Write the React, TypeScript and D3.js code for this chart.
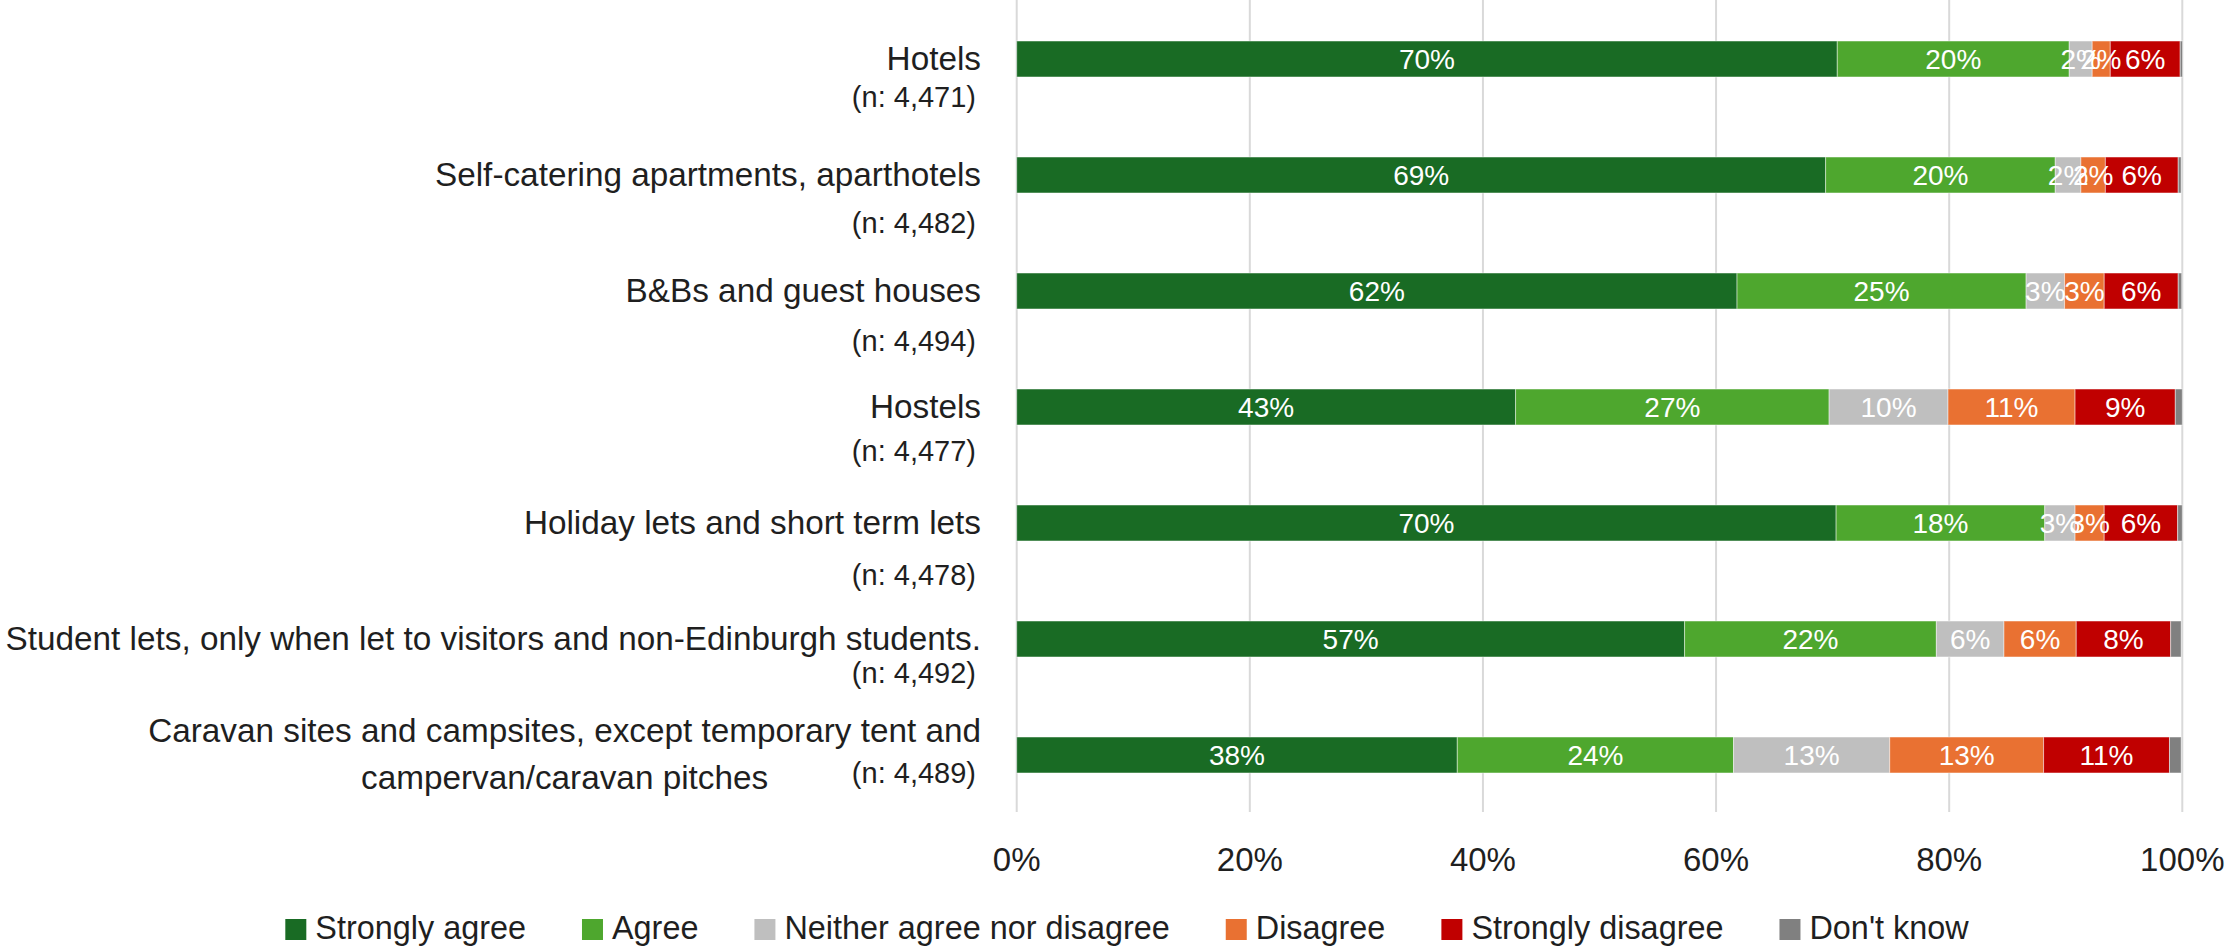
import React, { useEffect, useRef } from "react";
import * as d3 from "d3";

const categories = [
  "Hotels",
  "Self-catering apartments, aparthotels",
  "B&Bs and guest houses",
  "Hostels",
  "Holiday lets and short term lets",
  "Student lets, only when let to visitors and non-Edinburgh students.",
  "Caravan sites and campsites, except temporary tent and|campervan/caravan pitches",
];
const sampleSizes = ["4,471", "4,482", "4,494", "4,477", "4,478", "4,492", "4,489"];

const seriesNames = [
  "Strongly agree",
  "Agree",
  "Neither agree nor disagree",
  "Disagree",
  "Strongly disagree",
  "Don't know",
];
const seriesColors = ["#196B24", "#4EA72E", "#BFBFBF", "#E97132", "#C00000", "#808080"];

const stronglyAgree = [70.4, 69.4, 61.8, 42.8, 70.3, 57.3, 37.8];
const agree = [19.9, 19.7, 24.8, 26.9, 17.9, 21.6, 23.7];
const neither = [1.97, 2.2, 3.3, 10.2, 2.6, 5.8, 13.4];
const disagree = [1.55, 2.1, 3.4, 10.9, 2.5, 6.2, 13.2];
const stronglyDisagree = [6.0, 6.25, 6.35, 8.6, 6.3, 8.1, 10.8];
const dontKnow = [0.2, 0.25, 0.3, 0.6, 0.4, 0.9, 1.0];

const tickValues = [0, 20, 40, 60, 80, 100];

// layout constants (not data)
const W = 2229;
const H = 947;
const PLOT = { left: 1016.7, right: 2182.3, top: 0, bottom: 812 };
const LABEL_RIGHT = 981;
const N_RIGHT = 976;
const N_DY = [38, 48, 50, 44, 52, 34, 18];
const FONT = "'Liberation Sans', Arial, sans-serif";

export default function App() {
  const ref = useRef<SVGSVGElement>(null);

  useEffect(() => {
    const svg = d3.select(ref.current);
    svg.selectAll("*").remove();

    const series = [stronglyAgree, agree, neither, disagree, stronglyDisagree, dontKnow];
    const rows = categories.map((c, i) => {
      const r: any = { cat: c };
      seriesNames.forEach((s, j) => (r[s] = series[j][i]));
      return r;
    });
    const stacked = d3.stack().keys(seriesNames)(rows);

    const x = d3.scaleLinear().domain([0, 100]).range([PLOT.left, PLOT.right]);
    const y = d3
      .scaleBand()
      .domain(categories)
      .range([PLOT.top + 1, PLOT.bottom + 1])
      .paddingInner(0.69)
      .paddingOuter(0.345);

    // gridlines
    svg
      .append("g")
      .selectAll("line")
      .data(tickValues)
      .join("line")
      .attr("x1", (d) => x(d))
      .attr("x2", (d) => x(d))
      .attr("y1", PLOT.top)
      .attr("y2", PLOT.bottom)
      .attr("stroke", "#D9D9D9")
      .attr("stroke-width", 2);

    // bars
    const g = svg.append("g");
    stacked.forEach((layer, j) => {
      g.append("g")
        .selectAll("rect")
        .data(layer)
        .join("rect")
        .attr("x", (d) => x(d[0]))
        .attr("width", (d) => x(d[1]) - x(d[0]))
        .attr("y", (d: any) => y(d.data.cat)!)
        .attr("height", y.bandwidth())
        .attr("fill", seriesColors[j])
        .attr("stroke", "#ffffff")
        .attr("stroke-opacity", 0.45)
        .attr("stroke-width", 1);
    });
    // bar labels
    stacked.forEach((layer, j) => {
      if (seriesNames[j] === "Don't know") return;
      g.append("g")
        .selectAll("text")
        .data(layer)
        .join("text")
        .attr("x", (d) => (x(d[0]) + x(d[1])) / 2)
        .attr("y", (d: any) => y(d.data.cat)! + y.bandwidth() / 2 + 10)
        .attr("text-anchor", "middle")
        .attr("font-family", FONT)
        .attr("font-size", 28)
        .attr("fill", "#ffffff")
        .text((d) => `${Math.round(d[1] - d[0])}%`);
    });

    // category labels
    const lab = svg.append("g").attr("font-family", FONT).attr("fill", "#1F1F1F");
    categories.forEach((c, i) => {
      const cy = y(c)! + y.bandwidth() / 2;
      const lines = c.split("|");
      if (lines.length === 1) {
        lab
          .append("text")
          .attr("x", LABEL_RIGHT)
          .attr("y", cy + 11)
          .attr("text-anchor", "end")
          .attr("font-size", 33.3)
          .text(lines[0]);
      } else {
        const t1 = lab
          .append("text")
          .attr("x", LABEL_RIGHT)
          .attr("y", cy - 13)
          .attr("text-anchor", "end")
          .attr("font-size", 33.3)
          .text(lines[0]);
        const w1 = (t1.node() as SVGTextElement).getComputedTextLength();
        lab
          .append("text")
          .attr("x", LABEL_RIGHT - w1 / 2)
          .attr("y", cy + 34)
          .attr("text-anchor", "middle")
          .attr("font-size", 33.3)
          .text(lines[1]);
      }
      lab
        .append("text")
        .attr("x", N_RIGHT)
        .attr("y", cy + N_DY[i] + 10)
        .attr("text-anchor", "end")
        .attr("font-size", 29)
        .text(`(n: ${sampleSizes[i]})`);
    });

    // x tick labels
    svg
      .append("g")
      .selectAll("text")
      .data(tickValues)
      .join("text")
      .attr("x", (d) => x(d))
      .attr("y", 871)
      .attr("text-anchor", "middle")
      .attr("font-family", FONT)
      .attr("font-size", 33)
      .attr("fill", "#1F1F1F")
      .text((d) => `${d}%`);

    // legend
    const leg = svg.append("g");
    const items = seriesNames.map((s, j) => {
      const gi = leg.append("g");
      gi.append("rect").attr("width", 21).attr("height", 21).attr("y", 919).attr("fill", seriesColors[j]);
      const t = gi
        .append("text")
        .attr("x", 30)
        .attr("y", 939)
        .attr("font-family", FONT)
        .attr("font-size", 32.4)
        .attr("fill", "#1F1F1F")
        .text(s);
      const w = (t.node() as SVGTextElement).getComputedTextLength();
      return { gi, w: 30 + w };
    });
    const gap = 56;
    const total = d3.sum(items, (d) => d.w) + gap * (items.length - 1);
    let cx = 1127 - total / 2;
    items.forEach((it) => {
      it.gi.attr("transform", `translate(${cx},0)`);
      cx += it.w + gap;
    });
  }, []);

  return (
    <svg
      ref={ref}
      width={W}
      height={H}
      style={{ position: "absolute", left: 0, top: 0, background: "#ffffff" }}
    />
  );
}
